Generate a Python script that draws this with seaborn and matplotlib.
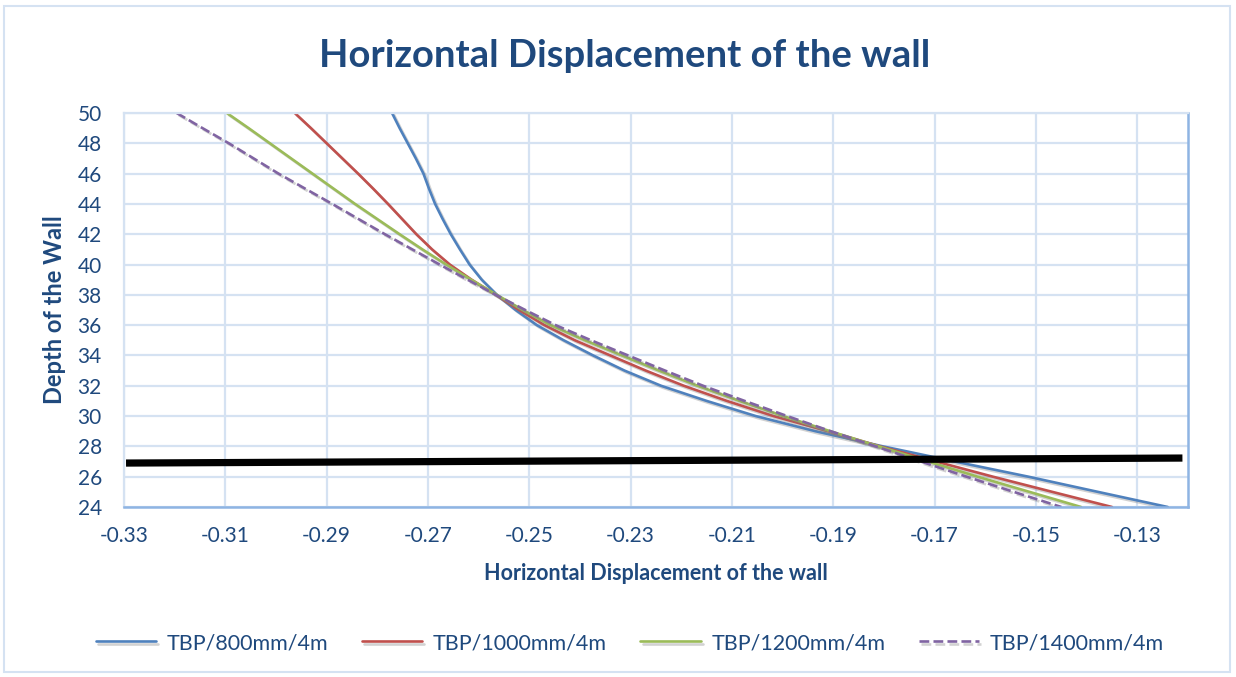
import numpy as np
import pandas as pd
import matplotlib
matplotlib.use("Agg")
import matplotlib.pyplot as plt
import matplotlib.patheffects as pe
from matplotlib.patches import Rectangle
import seaborn as sns

# ---- data ----
depth = [50, 49, 48, 47, 46, 45, 44, 43, 42, 41, 40, 39, 38, 37,
         36, 35, 34, 33, 32, 31, 30, 29, 28, 27, 26, 25, 24]
tbp_800 = [-0.2771, -0.2756, -0.2740, -0.2724, -0.2709, -0.2698, -0.2686, -0.2671,
           -0.2655, -0.2637, -0.2618, -0.2594, -0.2564, -0.2527,
           -0.2485, -0.2432, -0.2374, -0.2312, -0.2240, -0.2150, -0.2053, -0.1935,
           -0.1802, -0.1660, -0.1515, -0.1378, -0.1240]
tbp_1000 = [-0.2963, -0.2931, -0.2900, -0.2869, -0.2838, -0.2808, -0.2779, -0.2751,
            -0.2723, -0.2692, -0.2657, -0.2614, -0.2566, -0.2520,
            -0.2470, -0.2410, -0.2340, -0.2270, -0.2195, -0.2110, -0.2018, -0.1910,
            -0.1808, -0.1697, -0.1585, -0.1468, -0.1350]
tbp_1200 = [-0.3097, -0.3054, -0.3012, -0.2970, -0.2928, -0.2886, -0.2844, -0.2800,
            -0.2756, -0.2711, -0.2664, -0.2615, -0.2564, -0.2513,
            -0.2458, -0.2390, -0.2317, -0.2244, -0.2168, -0.2085, -0.1999, -0.1906,
            -0.1810, -0.1713, -0.1615, -0.1513, -0.1411]
tbp_1400 = [-0.3196, -0.3145, -0.3093, -0.3044, -0.2995, -0.2942, -0.2889, -0.2837,
            -0.2785, -0.2731, -0.2677, -0.2622, -0.2566, -0.2508,
            -0.2448, -0.2378, -0.2305, -0.2232, -0.2157, -0.2075, -0.1991, -0.1905,
            -0.1816, -0.1727, -0.1637, -0.1544, -0.1450]
series_names = ["TBP/800mm/4m", "TBP/1000mm/4m", "TBP/1200mm/4m", "TBP/1400mm/4m"]
ref_line_x = [-0.3296, -0.1211]
ref_line_depth = [26.9, 27.23]
x_ticks = [-0.33, -0.31, -0.29, -0.27, -0.25, -0.23, -0.21, -0.19, -0.17, -0.15, -0.13]
y_ticks = [24, 26, 28, 30, 32, 34, 36, 38, 40, 42, 44, 46, 48, 50]

title = "Horizontal Displacement of the wall"
xlabel = "Horizontal Displacement of the wall"
ylabel = "Depth of the Wall"

# ---- style ----
sns.set_style("white")
plt.rcParams["font.family"] = ["Lato", "DejaVu Sans"]
text_col = "#1F497D"
grid_col = "#D5E2F2"
colors = ["#4F81BD", "#C0504D", "#9BBB59", "#8064A2"]
styles = ["-", "-", "-", "--"]

fig = plt.figure(figsize=(12.36, 6.77), dpi=100)
ax = fig.add_axes([124 / 1236, 1 - 507 / 677, (1188 - 124) / 1236, (507 - 113) / 677])

all_series = [tbp_800, tbp_1000, tbp_1200, tbp_1400]
shadow = [pe.SimpleLineShadow(offset=(1.5, -1.5), shadow_color="#808080", alpha=0.35),
          pe.Normal()]
for name, vals, c, ls in zip(series_names, all_series, colors, styles):
    df = pd.DataFrame({"x": vals, "depth": depth})
    sns.lineplot(data=df, x="x", y="depth", sort=False, estimator=None, ax=ax,
                 color=c, linewidth=1.9, linestyle=ls, label=name,
                 path_effects=shadow)

ax.plot(ref_line_x, ref_line_depth, color="black", linewidth=5.2,
        solid_capstyle="butt", zorder=5, clip_on=False)

ax.set_xlim(-0.33, -0.12)
ax.set_ylim(24, 50)
ax.set_xticks(x_ticks)
ax.set_xticklabels([f"{v:.2f}" for v in x_ticks])
ax.set_yticks(y_ticks)
ax.grid(True, color=grid_col, linewidth=1.6)
ax.set_axisbelow(True)
ax.tick_params(length=0, labelsize=15, labelcolor=text_col)
ax.tick_params(axis="x", pad=14)
ax.tick_params(axis="y", pad=16)
for side in ["left", "top"]:
    ax.spines[side].set_color(grid_col)
    ax.spines[side].set_linewidth(1.6)
for side in ["right", "bottom"]:
    ax.spines[side].set_color("#8EB4E3")
    ax.spines[side].set_linewidth(1.8)

ax.set_xlabel(xlabel, fontsize=15.5, fontweight="bold", color=text_col, labelpad=12)
ax.set_ylabel(ylabel, fontsize=17, fontweight="bold", color=text_col, labelpad=8)

fig.text(625 / 1236, 1 - 56 / 677, title, ha="center", va="center",
         fontsize=27.5, fontweight="bold", color=text_col)

leg = ax.legend(loc="center", bbox_to_anchor=(630 / 1236, 1 - 643 / 677),
                bbox_transform=fig.transFigure, ncol=4, frameon=False,
                fontsize=15.5, handlelength=2.8, handletextpad=0.5, columnspacing=1.55)
for t in leg.get_texts():
    t.set_color(text_col)

fig.patches.append(Rectangle((4 / 1236, 5 / 677), 1226 / 1236, 666 / 677,
                             transform=fig.transFigure, fill=False,
                             edgecolor="#D5E2F2", linewidth=1.5))

fig.savefig("out.png", dpi=100)
